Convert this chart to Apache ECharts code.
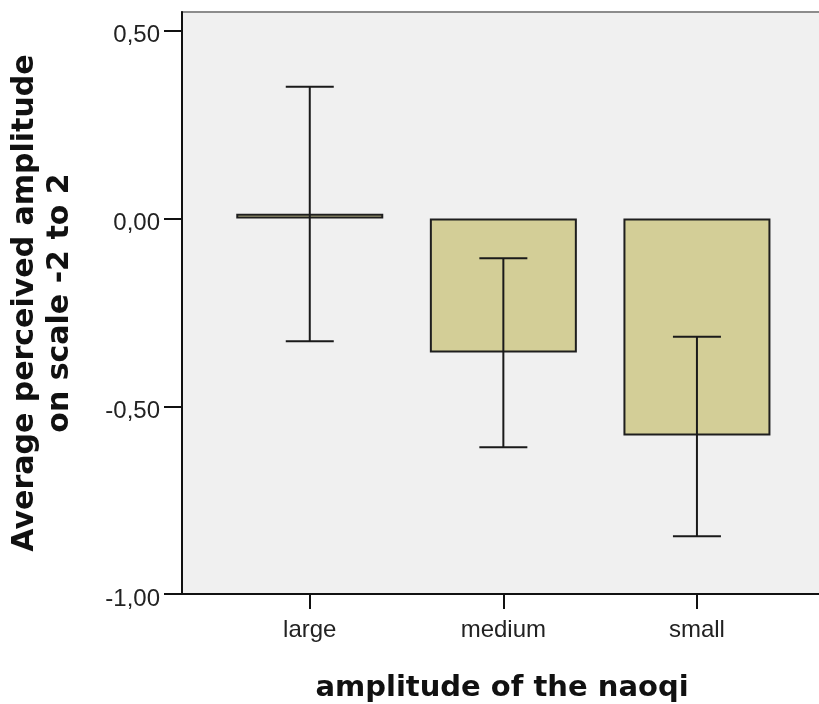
<!DOCTYPE html>
<html>
<head>
<meta charset="utf-8">
<script src="https://cdn.jsdelivr.net/npm/echarts@6/dist/echarts.min.js"></script>
<style>html,body{margin:0;padding:0;background:#fff}#c{width:819px;height:704px}</style>
</head>
<body>
<div id="c"></div>
<script>
const categories = ['large', 'medium', 'small'];
const means = [0.013, -0.357, -0.578];
const ciLow = [-0.327, -0.609, -0.846];
const ciHigh = [0.351, -0.106, -0.315];
const yTicks = [-1.0, -0.5, 0.0, 0.5];

const chart = echarts.init(document.getElementById('c'), null, {renderer: 'canvas'});
const idx = categories.map((_, i) => i);
chart.setOption({
  animation: false,
  backgroundColor: '#ffffff',
  grid: {left: 182, right: -3, top: 12, bottom: 110, outerBoundsMode: 'none', containLabel: false, show: true, backgroundColor: '#f0f0f0', borderColor: '#8c8c8c', borderWidth: 2},
  xAxis: {
    type: 'value', min: -0.66, max: 2.646,
    name: 'amplitude of the naoqi', nameLocation: 'middle', nameGap: 80,
    nameTextStyle: {fontFamily: 'DejaVu Sans', fontWeight: 'bold', fontSize: 29, lineHeight: 29, color: '#111'},
    axisLine: {show: true, onZero: false, lineStyle: {color: '#111', width: 2}},
    axisTick: {show: true, length: 15, customValues: idx, lineStyle: {color: '#111', width: 2}},
    axisLabel: {customValues: idx, margin: 24, fontFamily: 'Liberation Sans', fontSize: 24, color: '#222', formatter: v => categories[Math.round(v)]},
    splitLine: {show: false}
  },
  yAxis: {
    type: 'value', min: -1, max: 0.55, interval: 0.5,
    name: 'Average perceived amplitude\non scale -2 to 2', nameLocation: 'middle', nameGap: 104, nameRotate: 90,
    nameTextStyle: {fontFamily: 'DejaVu Sans', fontWeight: 'bold', fontSize: 30, lineHeight: 35, color: '#111'},
    axisLine: {show: true, onZero: false, lineStyle: {color: '#111', width: 2}},
    axisTick: {show: true, length: 18, lineStyle: {color: '#111', width: 2}},
    axisLabel: {margin: 22, showMaxLabel: false, verticalAlign: 'top', lineHeight: 10, fontFamily: 'Liberation Sans', fontSize: 24, color: '#222', formatter: v => yTicks.includes(Math.round(v*100)/100) ? v.toFixed(2).replace('.', ',') : ''},
    splitLine: {show: false}
  },
  series: [
    {
      type: 'bar', barWidth: 147,
      data: means.map((m, i) => [i, m]),
      itemStyle: {color: '#d3ce97', borderColor: '#1e1e1e', borderWidth: 2}
    },
    {
      type: 'custom',
      data: ciLow.map((l, i) => [i, l, ciHigh[i]]),
      renderItem: function (params, api) {
        const top = api.coord([api.value(0), api.value(2)]);
        const bot = api.coord([api.value(0), api.value(1)]);
        const hw = 24;
        const st = {stroke: '#1a1a1a', lineWidth: 2};
        return {type: 'group', children: [
          {type: 'line', shape: {x1: top[0], y1: top[1], x2: bot[0], y2: bot[1]}, style: st},
          {type: 'line', shape: {x1: top[0]-hw, y1: top[1], x2: top[0]+hw, y2: top[1]}, style: st},
          {type: 'line', shape: {x1: bot[0]-hw, y1: bot[1], x2: bot[0]+hw, y2: bot[1]}, style: st}
        ]};
      },
      z: 5
    }
  ]
});
</script>
</body>
</html>
